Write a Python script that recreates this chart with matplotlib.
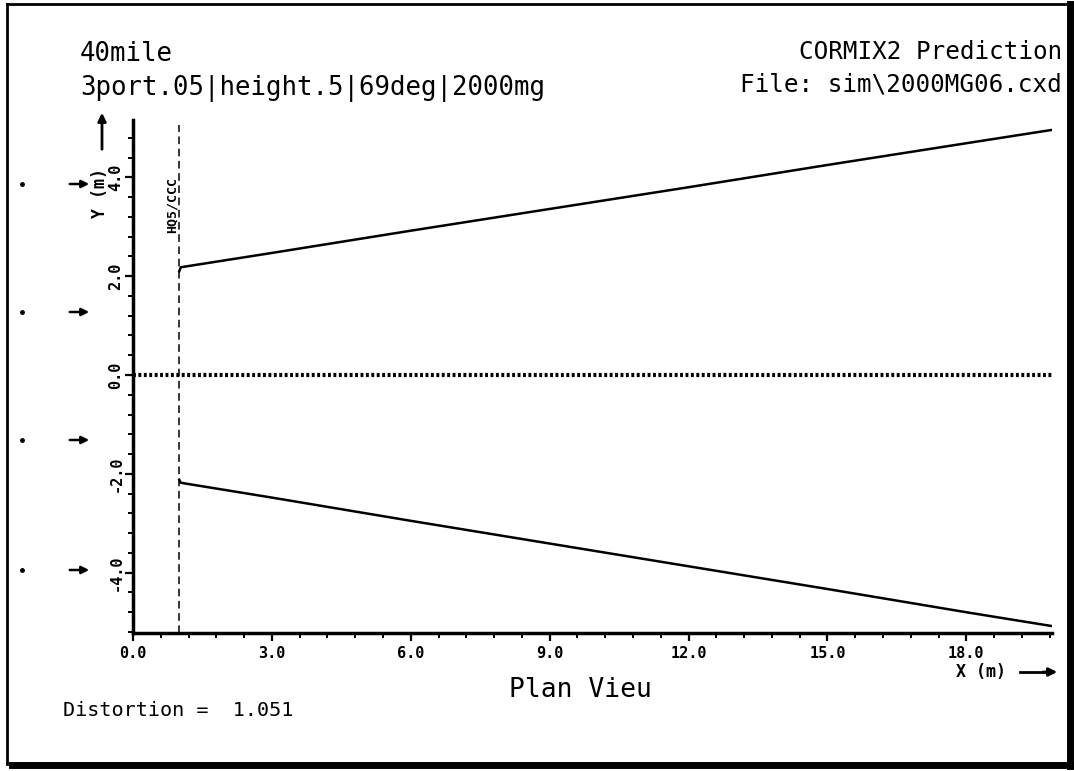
import matplotlib
matplotlib.use("Agg")
import matplotlib.pyplot as plt
import numpy as np
from matplotlib.ticker import MultipleLocator, FixedLocator

# plume boundaries (X in m, Y in m)
x_plume = [1.0, 1.03, 3.0, 6.0, 9.0, 12.0, 15.0, 18.0, 19.85]
y_upper = [2.10, 2.18, 2.47, 2.92, 3.36, 3.80, 4.25, 4.69, 4.96]
y_lower = [-2.12, -2.18, -2.48, -2.95, -3.41, -3.87, -4.33, -4.80, -5.08]

x_source = 1.0          # dashed line at the outfall
x_ticks = [0, 3, 6, 9, 12, 15, 18]
x_labels = ["0.0", "3.0", "6.0", "9.0", "12.0", "15.0", "18.0"]
y_ticks = [-4, -2, 0, 2, 4]
y_labels = ["-4.0", "-2.0", "0.0", "2.0", "4.0"]

title_left = ["40mile", "3port.05|height.5|69deg|2000mg"]
title_right = ["CORMIX2 Prediction", "File: sim\\2000MG06.cxd"]

W, H = 1074, 771
fig = plt.figure(figsize=(W / 100, H / 100), dpi=100)
plt.rcParams['font.family'] = ['DejaVu Sans Mono']


def fx(px):
    return px / W


def fy(py):
    return 1 - py / H


# header text
fig.text(fx(80), fy(54), title_left[0], fontsize=18.5, va="center")
fig.text(fx(80), fy(88), title_left[1], fontsize=18.5, va="center")
fig.text(fx(1062), fy(52), title_right[0], fontsize=17.5, va="center", ha="right")
fig.text(fx(1062), fy(84), title_right[1], fontsize=17.5, va="center", ha="right")

# outer frame with heavier right / bottom edge
fig.add_artist(plt.Line2D([fx(7), fx(1068)], [fy(4), fy(4)], color="black", lw=2))
fig.add_artist(plt.Line2D([fx(7), fx(7)], [fy(4), fy(764)], color="black", lw=2))
fig.add_artist(plt.Line2D([fx(1070), fx(1070)], [fy(4), fy(766)], color="black", lw=5))
fig.add_artist(plt.Line2D([fx(12), fx(1072)], [fy(765), fy(765)], color="black", lw=5))

# main plot
ax = fig.add_axes([fx(133), fy(633), fx(1052) - fx(133), fy(120) - fy(633)])
ax.set_xlim(0, 19.85)
ax.set_ylim(-5.22, 5.16)

ax.plot(x_plume, y_upper, color="black", lw=1.8)
ax.plot(x_plume, y_lower, color="black", lw=1.8)
ax.axhline(0, color="black", lw=3, ls=(0, (0.7, 0.6)))
ax.plot([x_source, x_source], [-5.22, 5.05], color="black", lw=1.1, ls=(0, (5, 3)))
ax.text(x_source - 0.16, 3.45, "HQ5/CCC", rotation=90, fontsize=9.5, fontweight="bold",
        ha="center", va="center")

for s in ["top", "right"]:
    ax.spines[s].set_visible(False)
ax.spines["left"].set_linewidth(2.5)
ax.spines["bottom"].set_linewidth(2.5)

ax.xaxis.set_major_locator(FixedLocator(x_ticks))
ax.set_xticklabels(x_labels)
ax.xaxis.set_minor_locator(MultipleLocator(0.6))
ax.yaxis.set_major_locator(FixedLocator(y_ticks))
ax.set_yticklabels(y_labels)
ax.yaxis.set_minor_locator(MultipleLocator(0.4))

ax.tick_params(which="major", direction="out", length=6, width=1.6)
ax.tick_params(which="minor", direction="out", length=3.5, width=1.4)
ax.tick_params(axis="x", pad=3, labelsize=11)
ax.tick_params(axis="y", pad=1, labelsize=11, labelrotation=90)
for lab in ax.get_xticklabels() + ax.get_yticklabels():
    lab.set_fontweight("bold")
for lab in ax.get_yticklabels():
    lab.set_va("center")

# axis names with arrows
fig.text(fx(981), fy(672), "X (m)", fontsize=12, fontweight="bold", ha="center", va="center")
fig.add_artist(plt.Line2D([fx(1020), fx(1052)], [fy(672), fy(672)], color="black", lw=2))
ax.annotate("", xy=(fx(1060), fy(672)), xytext=(fx(1040), fy(672)), xycoords="figure fraction",
            arrowprops=dict(arrowstyle="-|>", color="black", lw=2, mutation_scale=12))
fig.text(fx(100), fy(193), "Y (m)", fontsize=12, fontweight="bold", rotation=90,
         ha="center", va="center")
ax.annotate("", xy=(fx(102), fy(110)), xytext=(fx(102), fy(152)), xycoords="figure fraction",
            arrowprops=dict(arrowstyle="-|>", color="black", lw=2, mutation_scale=12))

# ambient current arrows on the left
for py in [184, 312, 440, 570]:
    ax.annotate("", xy=(fx(92), fy(py)), xytext=(fx(67), fy(py)), xycoords="figure fraction",
                arrowprops=dict(arrowstyle="-|>", color="black", lw=1.8, mutation_scale=11))
    fig.add_artist(plt.Line2D([fx(22)], [fy(py)], marker="o", markersize=2.5, color="black"))

fig.text(fx(580), fy(690), "Plan Vieu", fontsize=19, ha="center", va="center")
fig.text(fx(63), fy(710), "Distortion =  1.051", fontsize=14.5, ha="left", va="center")

plt.savefig("out.png", dpi=100)
